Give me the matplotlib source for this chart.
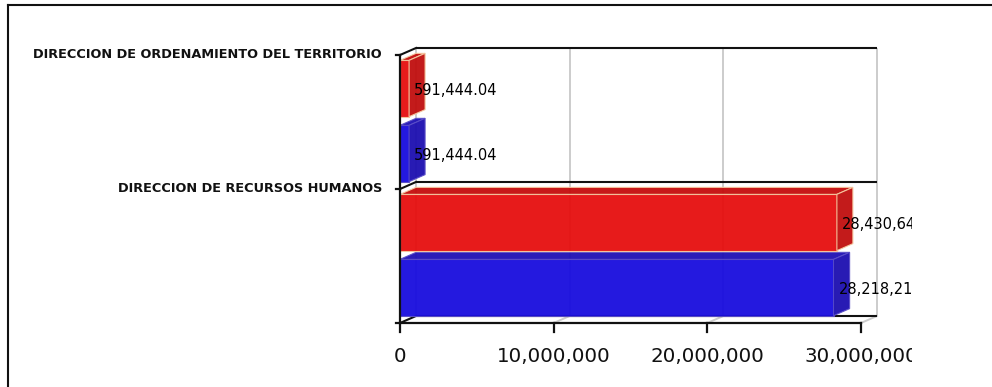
import matplotlib
matplotlib.use("Agg")
import matplotlib.pyplot as plt
from matplotlib.patches import Polygon
from matplotlib.lines import Line2D
from matplotlib.transforms import Bbox, TransformedBbox, offset_copy

# ---- data ----
categories = ["DIRECCION DE RECURSOS HUMANOS", "DIRECCION DE ORDENAMIENTO DEL TERRITORIO"]
series_red = [28430645.12, 591444.04]
series_blue = [28218213.56, 591444.04]
x_ticks = [0, 10_000_000, 20_000_000, 30_000_000]
x_tick_labels = ["0", "10,000,000", "20,000,000", "30,000,000"]
x_max = 30_000_000

# ---- figure / front plane of the 3D box (pixels) ----
W, H = 992, 387
fig = plt.figure(figsize=(W / 100, H / 100), dpi=100)
fig.patch.set_facecolor("white")

left_px, right_px, top_px, bottom_px = 400, 861, 55, 323
ax = fig.add_axes([left_px / W, (H - bottom_px) / H,
                   (right_px - left_px) / W, (bottom_px - top_px) / H])
n = len(categories)
ax.set_xlim(0, x_max)
ax.set_ylim(0, n)
ax.axis("off")

# depth of the box, converted to data units
depth_px = (16, 7)
px_x = x_max / (right_px - left_px)
px_y = n / (bottom_px - top_px)
ddx = depth_px[0] * px_x
ddy = depth_px[1] * px_y

black = "#111111"
grid = "#cccccc"

# back wall gridlines and floor lines
for xv in x_ticks:
    ax.plot([xv + ddx, xv + ddx], [ddy, n + ddy], color=grid, lw=1.4,
            clip_on=False, zorder=1, solid_capstyle="butt")
    if xv > 0:
        ax.plot([xv, xv + ddx], [0, ddy], color=grid, lw=1.4,
                clip_on=False, zorder=1)

# category boundary lines on the back wall + their depth diagonals
for yv in range(n + 1):
    ax.plot([ddx, x_max + ddx], [yv + ddy, yv + ddy], color=black, lw=1.5,
            clip_on=False, zorder=2, solid_capstyle="butt")
    ax.plot([0, ddx], [yv, yv + ddy], color=black, lw=1.5,
            clip_on=False, zorder=2)

# bars with top and side faces
styles = [
    # (values, offset in category, front, top, side, edge)
    (series_blue, 0.055, "#180cde", "#1e10b4", "#1c0eb0", "#5a4ec8"),
    (series_red, 0.54, "#e60e0e", "#c40c0c", "#c00e0e", "#f5c8a0"),
]
bar_h = 0.42
alpha = 0.95
value_clip = TransformedBbox(Bbox([[0, 0], [912 / W, 1]]), fig.transFigure)
label_tf = offset_copy(ax.transData, fig=fig, x=5, y=-2, units="dots")

for vals, off, c_front, c_top, c_side, c_edge in styles:
    for i, v in enumerate(vals):
        y0 = i + off
        y1 = y0 + bar_h
        ax.barh(y0 + bar_h / 2, v, height=bar_h, left=0, color=c_front,
                edgecolor=c_edge, linewidth=0.8, alpha=alpha, zorder=3,
                clip_on=False)
        top = Polygon([(0, y1), (v, y1), (v + ddx, y1 + ddy), (ddx, y1 + ddy)],
                      closed=True, facecolor=c_top, edgecolor=c_edge,
                      linewidth=0.8, alpha=alpha, zorder=3, clip_on=False)
        side = Polygon([(v, y0), (v, y1), (v + ddx, y1 + ddy), (v + ddx, y0 + ddy)],
                       closed=True, facecolor=c_side, edgecolor=c_edge,
                       linewidth=0.8, alpha=alpha, zorder=3, clip_on=False)
        ax.add_patch(top)
        ax.add_patch(side)
        t = ax.text(v, y0 + bar_h / 2, f"{v:,.2f}", transform=label_tf,
                    ha="left", va="center", fontsize=10.5, color="black",
                    family="DejaVu Sans", zorder=6)
        t.set_clip_box(value_clip)
        t.set_clip_on(True)

# front axes
ax.plot([0, 0], [0, n], color=black, lw=1.6, clip_on=False, zorder=5,
        solid_capstyle="projecting")
ax.plot([0, x_max], [0, 0], color=black, lw=1.6, clip_on=False, zorder=5,
        solid_capstyle="projecting")
for yv in range(n + 1):
    ax.plot([-4 * px_x, 0], [yv, yv], color=black, lw=1.6, clip_on=False, zorder=5)
for xv in x_ticks:
    ax.plot([xv, xv], [0, -9 * px_y], color=black, lw=1.6, clip_on=False, zorder=5)

# x tick labels
tick_tf = offset_copy(ax.transData, fig=fig, x=0, y=-34, units="dots")
for xv, lab in zip(x_ticks, x_tick_labels):
    t = ax.text(xv, 0, lab, transform=tick_tf, ha="center", va="center",
                fontsize=14.3, color="#111111", family="DejaVu Sans")
    t.set_clip_box(value_clip)
    t.set_clip_on(True)

# category labels
cat_tf = offset_copy(ax.transData, fig=fig, x=-18, y=0, units="dots")
for i, cat in enumerate(categories):
    ax.text(0, i + 1, cat, transform=cat_tf, ha="right", va="center",
            fontsize=9.3, fontweight="bold", color="#111111", family="DejaVu Sans")

# outer frame
fig.add_artist(Line2D([7.5 / W, 7.5 / W], [0, (H - 5) / H], color=black, lw=1.5,
                      transform=fig.transFigure))
fig.add_artist(Line2D([7.5 / W, 1], [(H - 5) / H, (H - 5) / H], color=black, lw=1.5,
                      transform=fig.transFigure))

fig.savefig("out.png", dpi=100)
